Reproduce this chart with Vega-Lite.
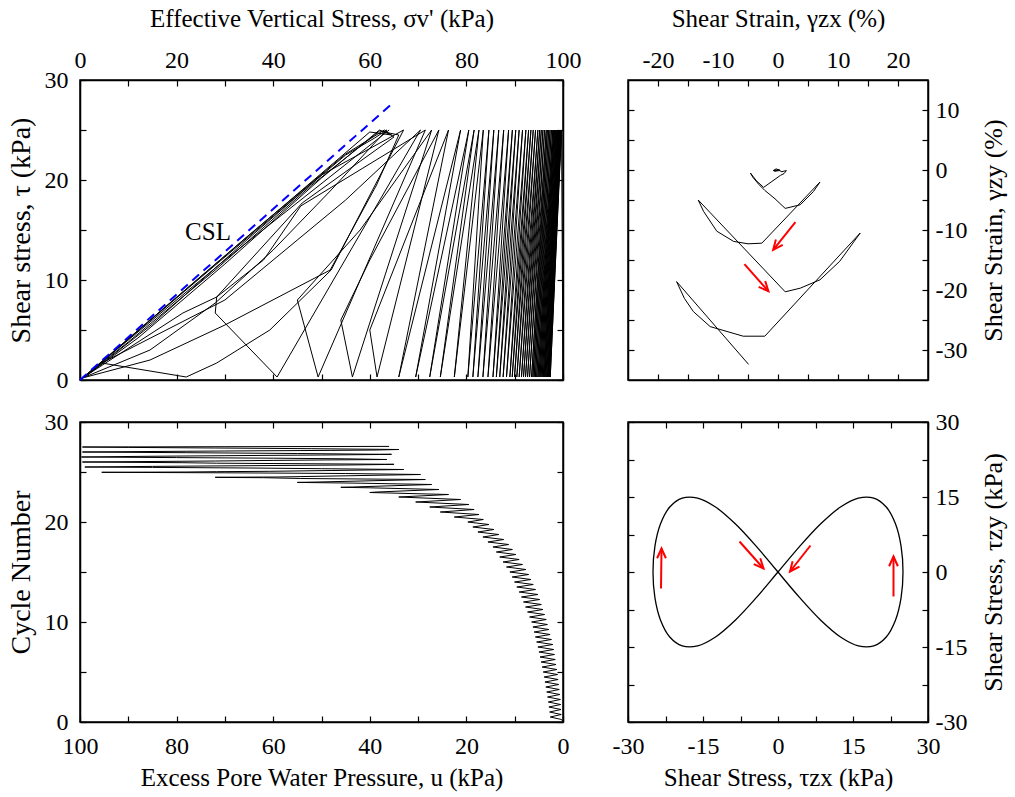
{
"$schema": "https://vega.github.io/schema/vega-lite/v6.json",
"background": "white",
"padding": {"left": 6, "top": 5, "right": 5, "bottom": 5},
"bounds": "flush",
"columns": 2,
"spacing": {"row": 42, "column": 65},
"config": {
  "view": {"stroke": "#000", "strokeWidth": 1.5},
  "axis": {"labelFont": "Liberation Serif", "titleFont": "Liberation Serif", "labelFontSize": 24, "titleFontSize": 25, "titleFontWeight": "normal", "labelColor": "#000", "titleColor": "#000", "tickColor": "#000", "domainColor": "#000", "domainWidth": 1.5, "tickWidth": 1.2, "tickSize": -6, "labelPadding": 14, "labelFlush": false, "labelOverlap": false, "labelBound": false, "grid": false}
},
"datasets": {
  "path": [
{"N":0,"u":0,"t":0},{"N":0.25,"u":0.3,"t":25},{"N":0.5,"u":2.64,"t":0.3},{"N":0.75,"u":0.36,"t":25},{"N":1,"u":2.78,"t":0.3},{"N":1.25,"u":0.42,"t":25},{"N":1.5,"u":2.92,"t":0.3},{"N":1.75,"u":0.48,"t":25},{"N":2,"u":3.06,"t":0.3},{"N":2.25,"u":0.54,"t":25},{"N":2.5,"u":3.2,"t":0.3},{"N":2.75,"u":0.65,"t":25},{"N":3,"u":3.38,"t":0.3},{"N":3.25,"u":0.77,"t":25},{"N":3.5,"u":3.56,"t":0.3},{"N":3.75,"u":0.89,"t":25},{"N":4,"u":3.74,"t":0.3},{"N":4.25,"u":1.01,"t":25},{"N":4.5,"u":3.92,"t":0.3},{"N":4.75,"u":1.13,"t":25},{"N":5,"u":4.1,"t":0.3},{"N":5.25,"u":1.28,"t":25},{"N":5.5,"u":4.32,"t":0.3},{"N":5.75,"u":1.44,"t":25},{"N":6,"u":4.54,"t":0.3},{"N":6.25,"u":1.6,"t":25},{"N":6.5,"u":4.76,"t":0.3},{"N":6.75,"u":1.76,"t":25},{"N":7,"u":4.98,"t":0.3},{"N":7.25,"u":1.92,"t":25},{"N":7.5,"u":5.2,"t":0.3},{"N":7.75,"u":2.11,"t":25},{"N":8,"u":5.46,"t":0.3},{"N":8.25,"u":2.39,"t":25},{"N":8.5,"u":5.72,"t":0.3},{"N":8.75,"u":2.67,"t":25},{"N":9,"u":5.98,"t":0.3},{"N":9.25,"u":2.95,"t":25},{"N":9.5,"u":6.24,"t":0.3},{"N":9.75,"u":3.23,"t":25},{"N":10,"u":6.5,"t":0.3},{"N":10.25,"u":3.47,"t":25},{"N":10.5,"u":6.92,"t":0.3},{"N":10.75,"u":3.81,"t":25},{"N":11,"u":7.34,"t":0.3},{"N":11.25,"u":4.15,"t":25},{"N":11.5,"u":7.76,"t":0.3},{"N":11.75,"u":4.49,"t":25},{"N":12,"u":8.18,"t":0.3},{"N":12.25,"u":4.83,"t":25},{"N":12.5,"u":8.6,"t":0.3},{"N":12.75,"u":5.2,"t":25},{"N":13,"u":9.08,"t":0.3},{"N":13.25,"u":5.68,"t":25},{"N":13.5,"u":9.56,"t":0.3},{"N":13.75,"u":6.16,"t":25},{"N":14,"u":10.04,"t":0.3},{"N":14.25,"u":6.64,"t":25},{"N":14.5,"u":10.52,"t":0.3},{"N":14.75,"u":7.12,"t":25},{"N":15,"u":11,"t":0.3},{"N":15.25,"u":7.68,"t":25},{"N":15.5,"u":11.7,"t":0.3},{"N":15.75,"u":8.38,"t":25},{"N":16,"u":12.4,"t":0.3},{"N":16.25,"u":9.08,"t":25},{"N":16.5,"u":13.1,"t":0.3},{"N":16.75,"u":9.78,"t":25},{"N":17,"u":13.8,"t":0.3},{"N":17.25,"u":10.48,"t":25},{"N":17.5,"u":14.5,"t":0.3},{"N":17.75,"u":11.26,"t":25},{"N":18,"u":15.54,"t":0.3},{"N":18.25,"u":12.28,"t":25},{"N":18.5,"u":16.58,"t":0.3},{"N":18.75,"u":13.3,"t":25},{"N":19,"u":17.62,"t":0.3},{"N":19.25,"u":14.32,"t":25},{"N":19.5,"u":18.66,"t":0.3},{"N":19.75,"u":15.34,"t":25},{"N":20,"u":19.7,"t":0.3},{"N":20.25,"u":16.5,"t":25},{"N":20.5,"u":22.5,"t":0.3},{"N":20.75,"u":17.4,"t":25},{"N":21,"u":25.4,"t":0.3},{"N":21.25,"u":18.4,"t":25},{"N":21.5,"u":27.6,"t":0.3},{"N":21.75,"u":19.5,"t":25},{"N":22,"u":30.5,"t":0.3},{"N":22.25,"u":21.2,"t":25},{"N":22.5,"u":34,"t":0.3},{"N":22.75,"u":23.7,"t":25},
{"N":22.95,"u":40,"t":5},{"N":23,"u":38.5,"t":0.3},{"N":23.25,"u":25.7,"t":25},{"N":23.42,"u":40,"t":12},{"N":23.47,"u":46,"t":6},{"N":23.5,"u":43.6,"t":0.3},{"N":23.75,"u":27.2,"t":25},{"N":23.88,"u":42,"t":15},{"N":23.96,"u":55,"t":8},{"N":24,"u":50.7,"t":0.3},{"N":24.25,"u":28.5,"t":25},{"N":24.35,"u":54.3,"t":17.4},{"N":24.43,"u":62,"t":12},{"N":24.46,"u":71.7,"t":8.3},{"N":24.475,"u":72,"t":6.7},{"N":24.5,"u":59.2,"t":0.3},{"N":24.75,"u":29.5,"t":25},{"N":24.85,"u":45,"t":18},{"N":24.92,"u":70,"t":8},{"N":24.97,"u":95.5,"t":1.7},{"N":25,"u":78,"t":0.3},{"N":25.03,"u":71.7,"t":1.7},{"N":25.07,"u":60.7,"t":5},{"N":25.15,"u":48,"t":11},{"N":25.25,"u":33,"t":25},
{"N":25.33,"u":50,"t":20.5},{"N":25.4,"u":65,"t":14.2},{"N":25.46,"u":85,"t":5.6},{"N":25.5,"u":99,"t":0.3},{"N":25.56,"u":85,"t":6.2},{"N":25.63,"u":65,"t":14.5},{"N":25.7,"u":45,"t":22.6},{"N":25.75,"u":37,"t":25},{"N":25.77,"u":35,"t":24.3},{"N":25.83,"u":54,"t":17.7},{"N":25.88,"u":71.7,"t":8.3},{"N":25.93,"u":78.7,"t":6.7},{"N":26,"u":99.5,"t":0.2},{"N":26.05,"u":85.5,"t":3},{"N":26.1,"u":72,"t":7.7},{"N":26.16,"u":60,"t":13},{"N":26.21,"u":48,"t":19},{"N":26.25,"u":36.5,"t":25},{"N":26.27,"u":39,"t":24.2},{"N":26.32,"u":45,"t":22.5},{"N":26.38,"u":60,"t":16.4},{"N":26.44,"u":80,"t":8.2},{"N":26.5,"u":99.7,"t":0.1},{"N":26.56,"u":88,"t":4.2},{"N":26.63,"u":70,"t":11.6},{"N":26.7,"u":50,"t":20.2},{"N":26.75,"u":38,"t":25},{"N":26.77,"u":35.5,"t":24.5},{"N":26.78,"u":40,"t":24.8},{"N":26.85,"u":55,"t":18.6},{"N":26.93,"u":78,"t":9.1},{"N":27,"u":99.5,"t":0.2},{"N":27.05,"u":85.5,"t":2},{"N":27.1,"u":70,"t":5.5},{"N":27.16,"u":48.2,"t":11},{"N":27.2,"u":38.6,"t":19.5},{"N":27.25,"u":34,"t":24.5},{"N":27.27,"u":38,"t":24.9},{"N":27.33,"u":52,"t":19.5},{"N":27.4,"u":72,"t":11},{"N":27.46,"u":90,"t":3.8},{"N":27.5,"u":99.5,"t":0.2},{"N":27.53,"u":70,"t":12},{"N":27.56,"u":36,"t":25}
  ],
  "csl": [{"u":100,"t":0},{"u":35,"t":27.8}],
  "csltext": [{"u":73.5,"t":14.8,"label":"CSL"}],
  "strain": [{"gx":0,"gy":0},{"gx":-0.8,"gy":-0.1},{"gx":-0.3,"gy":0.2},{"gx":0.3,"gy":-0.1},{"gx":-0.6,"gy":-0.2},{"gx":0.2,"gy":0.1},{"gx":0.5,"gy":-0.3},{"gx":1.4,"gy":-0.1},{"gx":1.0,"gy":-0.6},{"gx":0.4,"gy":-0.9},{"gx":-1.0,"gy":-1.9},{"gx":-2.4,"gy":-2.9},{"gx":-3.6,"gy":-1.8},{"gx":-4.6,"gy":-0.5},{"gx":-4.2,"gy":-1.2},{"gx":-3.2,"gy":-2.4},{"gx":-2.2,"gy":-3.4},{"gx":-0.5,"gy":-4.8},{"gx":1.2,"gy":-6.4},{"gx":3.7,"gy":-5.8},{"gx":5.9,"gy":-3.6},{"gx":7,"gy":-2},{"gx":-2.7,"gy":-12.2},{"gx":-5,"gy":-12.3},{"gx":-7.4,"gy":-11.9},{"gx":-10.2,"gy":-10.2},{"gx":-12.4,"gy":-6.9},{"gx":-13.3,"gy":-5},{"gx":1.2,"gy":-20.3},{"gx":3.7,"gy":-19.7},{"gx":7,"gy":-18.3},{"gx":10.3,"gy":-15.2},{"gx":13.7,"gy":-10.5},{"gx":-2.2,"gy":-27.7},{"gx":-5.8,"gy":-27.7},{"gx":-11.3,"gy":-26.1},{"gx":-14.1,"gy":-23.6},{"gx":-15.6,"gy":-21.4},{"gx":-16.9,"gy":-18.6},{"gx":-4.9,"gy":-32.4}],
  "sa1": [{"x1":2.9,"y1":-8.7,"x2":-0.8,"y2":-13.3}],
  "sa2": [{"x1":-5.6,"y1":-15.7,"x2":-1.6,"y2":-20.2}],
  "fig8": [{"tx":0,"ty":0},{"tx":4.34,"ty":-5.13},{"tx":8.55,"ty":-9.64},{"tx":12.5,"ty":-12.99},{"tx":16.07,"ty":-14.77},{"tx":19.15,"ty":-14.77},{"tx":21.65,"ty":-12.99},{"tx":23.49,"ty":-9.64},{"tx":24.62,"ty":-5.13},{"tx":25,"ty":0},{"tx":24.62,"ty":5.13},{"tx":23.49,"ty":9.64},{"tx":21.65,"ty":12.99},{"tx":19.15,"ty":14.77},{"tx":16.07,"ty":14.77},{"tx":12.5,"ty":12.99},{"tx":8.55,"ty":9.64},{"tx":4.34,"ty":5.13},{"tx":0,"ty":0},{"tx":-4.34,"ty":-5.13},{"tx":-8.55,"ty":-9.64},{"tx":-12.5,"ty":-12.99},{"tx":-16.07,"ty":-14.77},{"tx":-19.15,"ty":-14.77},{"tx":-21.65,"ty":-12.99},{"tx":-23.49,"ty":-9.64},{"tx":-24.62,"ty":-5.13},{"tx":-25,"ty":0},{"tx":-24.62,"ty":5.13},{"tx":-23.49,"ty":9.64},{"tx":-21.65,"ty":12.99},{"tx":-19.15,"ty":14.77},{"tx":-16.07,"ty":14.77},{"tx":-12.5,"ty":12.99},{"tx":-8.55,"ty":9.64},{"tx":-4.34,"ty":5.13},{"tx":0,"ty":0}],
  "fup": [{"x1":-23.4,"y1":-3.3,"x2":-23.3,"y2":4.7},{"x1":23.1,"y1":-4.9,"x2":23.1,"y2":3.1}],
  "fl": [{"x1":-7.7,"y1":6.1,"x2":-2.9,"y2":0.7}],
  "fr": [{"x1":6.5,"y1":5.3,"x2":2.4,"y2":0.1}]
},
"concat": [
  {
    "width": 483, "height": 300,
    "layer": [
      {"data": {"name": "path"}, "mark": {"type": "line", "color": "#000", "strokeWidth": 1, "clip": true},
       "encoding": {
         "x": {"field": "u", "type": "quantitative", "scale": {"domain": [0, 100], "reverse": true, "nice": false, "zero": false},
               "axis": {"orient": "top", "title": "Effective Vertical Stress, σv' (kPa)", "titlePadding": 17, "labelPadding": 14, "values": [0,10,20,30,40,50,60,70,80,90,100], "labelExpr": "datum.value % 20 === 0 ? format(100 - datum.value, 'd') : ''"}},
         "y": {"field": "t", "type": "quantitative", "scale": {"domain": [0, 30], "nice": false},
               "axis": {"orient": "left", "title": "Shear stress, τ (kPa)", "titleFontSize": 28, "titlePadding": 9, "labelPadding": 18, "values": [0,5,10,15,20,25,30], "labelExpr": "datum.value % 10 === 0 ? datum.label : ''"}},
         "order": {"value": null}}},
      {"data": {"name": "csl"}, "mark": {"type": "line", "color": "#0000ff", "strokeWidth": 2, "strokeDash": [9, 6]},
       "encoding": {
         "x": {"field": "u", "type": "quantitative", "scale": {"domain": [0, 100], "reverse": true, "nice": false, "zero": false},
               "axis": {"orient": "bottom", "labels": false, "title": null, "values": [0,10,20,30,40,50,60,70,80,90,100]}},
         "y": {"field": "t", "type": "quantitative", "scale": {"domain": [0, 30], "nice": false},
               "axis": {"orient": "right", "labels": false, "title": null, "values": [0,5,10,15,20,25,30]}}}},
      {"data": {"name": "csltext"}, "mark": {"type": "text", "font": "Liberation Serif", "fontSize": 25, "color": "#000", "align": "center", "baseline": "middle"},
       "encoding": {
         "x": {"field": "u", "type": "quantitative", "axis": null, "scale": {"domain": [0, 100], "reverse": true, "nice": false, "zero": false}},
         "y": {"field": "t", "type": "quantitative", "axis": null, "scale": {"domain": [0, 30], "nice": false}},
         "text": {"field": "label"}}}
    ],
    "resolve": {"axis": {"x": "independent", "y": "independent"}}
  },
  {
    "width": 300, "height": 300,
    "layer": [
      {"data": {"name": "strain"}, "mark": {"type": "line", "color": "#000", "strokeWidth": 1, "clip": true},
       "encoding": {
         "x": {"field": "gx", "type": "quantitative", "scale": {"domain": [-25, 25], "nice": false, "zero": false},
               "axis": {"orient": "top", "title": "Shear Strain, γzx (%)", "titlePadding": 17, "labelPadding": 14, "values": [-20,-15,-10,-5,0,5,10,15,20], "labelExpr": "datum.value % 10 === 0 ? replace(datum.label, '−', '-') : ''"}},
         "y": {"field": "gy", "type": "quantitative", "scale": {"domain": [-35, 15], "nice": false, "zero": false},
               "axis": {"orient": "right", "title": "Shear Strain, γzy (%)", "titleFontSize": 26, "titleAngle": 270, "titleBaseline": "top", "titlePadding": 14, "labelPadding": 13, "values": [-30,-25,-20,-15,-10,-5,0,5,10], "labelExpr": "datum.value % 10 === 0 ? replace(datum.label, '−', '-') : ''"}},
         "order": {"value": null}}},
      {"data": {"name": "sa1"}, "mark": {"type": "rule", "color": "#ff0000", "strokeWidth": 2},
       "encoding": {
         "x": {"field": "x1", "type": "quantitative", "scale": {"domain": [-25, 25], "nice": false, "zero": false},
               "axis": {"orient": "bottom", "labels": false, "title": null, "values": [-20,-15,-10,-5,0,5,10,15,20]}},
         "y": {"field": "y1", "type": "quantitative", "scale": {"domain": [-35, 15], "nice": false, "zero": false},
               "axis": {"orient": "left", "labels": false, "title": null, "values": [-30,-25,-20,-15,-10,-5,0,5,10]}},
         "x2": {"field": "x2"}, "y2": {"field": "y2"}}},
      {"data": {"name": "sa1"}, "mark": {"type": "point", "shape": "M-0.45,1L0,0L0.45,1", "size": 380, "angle": 218.8, "filled": false, "stroke": "#ff0000", "strokeWidth": 2, "opacity": 1},
       "encoding": {
         "x": {"field": "x2", "type": "quantitative", "axis": null, "scale": {"domain": [-25, 25], "nice": false, "zero": false}},
         "y": {"field": "y2", "type": "quantitative", "axis": null, "scale": {"domain": [-35, 15], "nice": false, "zero": false}}}},
      {"data": {"name": "sa2"}, "mark": {"type": "rule", "color": "#ff0000", "strokeWidth": 2},
       "encoding": {
         "x": {"field": "x1", "type": "quantitative", "axis": null, "scale": {"domain": [-25, 25], "nice": false, "zero": false}},
         "y": {"field": "y1", "type": "quantitative", "axis": null, "scale": {"domain": [-35, 15], "nice": false, "zero": false}},
         "x2": {"field": "x2"}, "y2": {"field": "y2"}}},
      {"data": {"name": "sa2"}, "mark": {"type": "point", "shape": "M-0.45,1L0,0L0.45,1", "size": 380, "angle": 138.4, "filled": false, "stroke": "#ff0000", "strokeWidth": 2, "opacity": 1},
       "encoding": {
         "x": {"field": "x2", "type": "quantitative", "axis": null, "scale": {"domain": [-25, 25], "nice": false, "zero": false}},
         "y": {"field": "y2", "type": "quantitative", "axis": null, "scale": {"domain": [-35, 15], "nice": false, "zero": false}}}}
    ],
    "resolve": {"axis": {"x": "independent", "y": "independent"}}
  },
  {
    "width": 483, "height": 300,
    "layer": [
      {"data": {"name": "path"}, "mark": {"type": "line", "color": "#000", "strokeWidth": 1, "clip": true},
       "encoding": {
         "x": {"field": "u", "type": "quantitative", "scale": {"domain": [0, 100], "reverse": true, "nice": false, "zero": false},
               "axis": {"orient": "bottom", "title": "Excess Pore Water Pressure, u (kPa)", "titlePadding": 7, "labelPadding": 18, "values": [0,10,20,30,40,50,60,70,80,90,100], "labelExpr": "datum.value % 20 === 0 ? datum.label : ''"}},
         "y": {"field": "N", "type": "quantitative", "scale": {"domain": [0, 30], "nice": false},
               "axis": {"orient": "left", "title": "Cycle Number", "titleFontSize": 28, "titlePadding": 9, "labelPadding": 18, "values": [0,5,10,15,20,25,30], "labelExpr": "datum.value % 10 === 0 ? datum.label : ''"}},
         "order": {"value": null}}},
      {"data": {"name": "path"}, "mark": {"type": "line", "color": "#000", "strokeOpacity": 0, "clip": true},
       "encoding": {
         "x": {"field": "u", "type": "quantitative", "scale": {"domain": [0, 100], "reverse": true, "nice": false, "zero": false},
               "axis": {"orient": "top", "labels": false, "title": null, "values": [0,10,20,30,40,50,60,70,80,90,100]}},
         "y": {"field": "N", "type": "quantitative", "scale": {"domain": [0, 30], "nice": false},
               "axis": {"orient": "right", "labels": false, "title": null, "values": [0,5,10,15,20,25,30]}},
         "order": {"value": null}}}
    ],
    "resolve": {"axis": {"x": "independent", "y": "independent"}}
  },
  {
    "width": 300, "height": 300,
    "layer": [
      {"data": {"name": "fig8"}, "mark": {"type": "line", "color": "#000", "strokeWidth": 1.3, "interpolate": "catmull-rom", "clip": true},
       "encoding": {
         "x": {"field": "tx", "type": "quantitative", "scale": {"domain": [-30, 30], "nice": false, "zero": false},
               "axis": {"orient": "bottom", "title": "Shear Stress, τzx (kPa)", "titlePadding": 7, "labelPadding": 18, "values": [-30,-22.5,-15,-7.5,0,7.5,15,22.5,30], "labelExpr": "datum.value % 15 === 0 ? replace(datum.label, '−', '-') : ''"}},
         "y": {"field": "ty", "type": "quantitative", "scale": {"domain": [-30, 30], "nice": false, "zero": false},
               "axis": {"orient": "right", "title": "Shear Stress, τzy (kPa)", "titleFontSize": 26, "titleAngle": 270, "titleBaseline": "top", "titlePadding": 14, "labelPadding": 13, "values": [-30,-22.5,-15,-7.5,0,7.5,15,22.5,30], "labelExpr": "datum.value % 15 === 0 ? replace(datum.label, '−', '-') : ''"}},
         "order": {"value": null}}},
      {"data": {"name": "fup"}, "mark": {"type": "rule", "color": "#ff0000", "strokeWidth": 2},
       "encoding": {
         "x": {"field": "x1", "type": "quantitative", "scale": {"domain": [-30, 30], "nice": false, "zero": false},
               "axis": {"orient": "top", "labels": false, "title": null, "values": [-30,-22.5,-15,-7.5,0,7.5,15,22.5,30]}},
         "y": {"field": "y1", "type": "quantitative", "scale": {"domain": [-30, 30], "nice": false, "zero": false},
               "axis": {"orient": "left", "labels": false, "title": null, "values": [-30,-22.5,-15,-7.5,0,7.5,15,22.5,30]}},
         "x2": {"field": "x2"}, "y2": {"field": "y2"}}},
      {"data": {"name": "fup"}, "mark": {"type": "point", "shape": "M-0.45,1L0,0L0.45,1", "size": 380, "angle": 0, "filled": false, "stroke": "#ff0000", "strokeWidth": 2, "opacity": 1},
       "encoding": {
         "x": {"field": "x2", "type": "quantitative", "axis": null, "scale": {"domain": [-30, 30], "nice": false, "zero": false}},
         "y": {"field": "y2", "type": "quantitative", "axis": null, "scale": {"domain": [-30, 30], "nice": false, "zero": false}}}},
      {"data": {"name": "fl"}, "mark": {"type": "rule", "color": "#ff0000", "strokeWidth": 2},
       "encoding": {
         "x": {"field": "x1", "type": "quantitative", "axis": null, "scale": {"domain": [-30, 30], "nice": false, "zero": false}},
         "y": {"field": "y1", "type": "quantitative", "axis": null, "scale": {"domain": [-30, 30], "nice": false, "zero": false}},
         "x2": {"field": "x2"}, "y2": {"field": "y2"}}},
      {"data": {"name": "fl"}, "mark": {"type": "point", "shape": "M-0.45,1L0,0L0.45,1", "size": 380, "angle": 138.4, "filled": false, "stroke": "#ff0000", "strokeWidth": 2, "opacity": 1},
       "encoding": {
         "x": {"field": "x2", "type": "quantitative", "axis": null, "scale": {"domain": [-30, 30], "nice": false, "zero": false}},
         "y": {"field": "y2", "type": "quantitative", "axis": null, "scale": {"domain": [-30, 30], "nice": false, "zero": false}}}},
      {"data": {"name": "fr"}, "mark": {"type": "rule", "color": "#ff0000", "strokeWidth": 2},
       "encoding": {
         "x": {"field": "x1", "type": "quantitative", "axis": null, "scale": {"domain": [-30, 30], "nice": false, "zero": false}},
         "y": {"field": "y1", "type": "quantitative", "axis": null, "scale": {"domain": [-30, 30], "nice": false, "zero": false}},
         "x2": {"field": "x2"}, "y2": {"field": "y2"}}},
      {"data": {"name": "fr"}, "mark": {"type": "point", "shape": "M-0.45,1L0,0L0.45,1", "size": 380, "angle": 218.3, "filled": false, "stroke": "#ff0000", "strokeWidth": 2, "opacity": 1},
       "encoding": {
         "x": {"field": "x2", "type": "quantitative", "axis": null, "scale": {"domain": [-30, 30], "nice": false, "zero": false}},
         "y": {"field": "y2", "type": "quantitative", "axis": null, "scale": {"domain": [-30, 30], "nice": false, "zero": false}}}}
    ],
    "resolve": {"axis": {"x": "independent", "y": "independent"}}
  }
]
}
